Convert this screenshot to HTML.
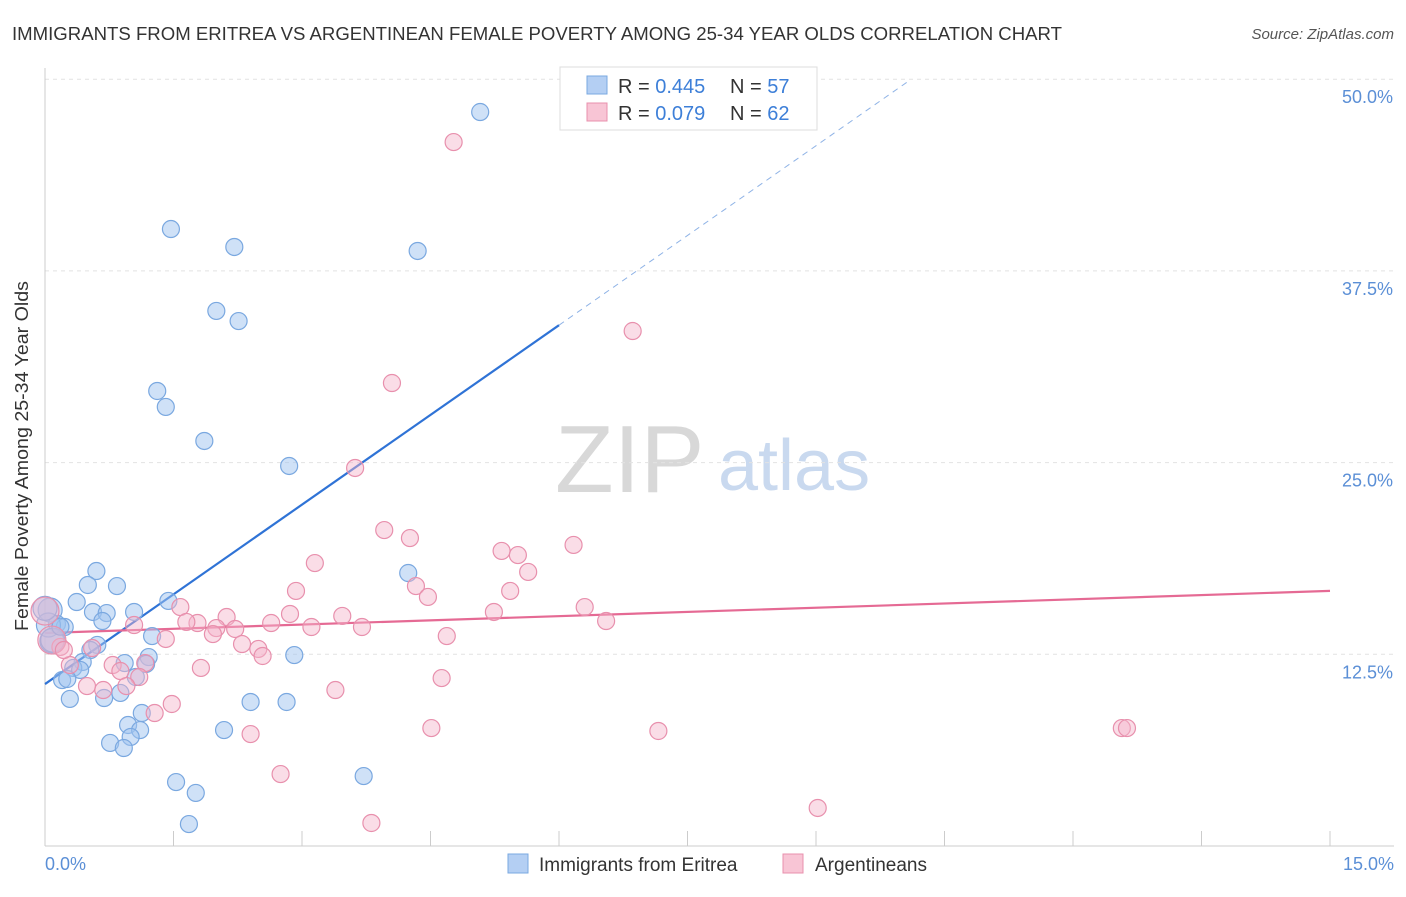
<!DOCTYPE html>
<html><head><meta charset="utf-8"><style>
body{margin:0;background:#fff;font-family:"Liberation Sans",sans-serif;}
svg text{font-family:"Liberation Sans",sans-serif;}
</style></head><body>
<svg id="chart" width="1406" height="892" xmlns="http://www.w3.org/2000/svg">
<text x="12" y="40" font-size="18" fill="#333" textLength="1050" lengthAdjust="spacingAndGlyphs">IMMIGRANTS FROM ERITREA VS ARGENTINEAN FEMALE POVERTY AMONG 25-34 YEAR OLDS CORRELATION CHART</text>
<text x="1394" y="39" font-size="15" fill="#555" text-anchor="end" font-style="italic">Source: ZipAtlas.com</text>
<g>
<text x="555" y="492" font-size="96" fill="#d8d8d8" font-family="Liberation Serif">ZIP</text>
<text x="718" y="490" font-size="72" fill="#c9d9ef">atlas</text>
</g>
<g id="grid"></g><g id="axes"></g><g id="trends"></g><g id="pts"></g>
<text x="28" y="456" font-size="18.5" fill="#333" text-anchor="middle" textLength="350" lengthAdjust="spacingAndGlyphs" transform="rotate(-90 28 456)">Female Poverty Among 25-34 Year Olds</text>
<text x="45" y="870" font-size="18" fill="#5b8fd6">0.0%</text>
<text x="1394" y="870" font-size="18" fill="#5b8fd6" text-anchor="end">15.0%</text>
<g>
<rect x="560" y="67" width="257" height="63" fill="#fff" stroke="#ddd"/>
<rect x="587" y="76" width="20" height="18" fill="#b4cff3" stroke="#7aa8e0"/>
<rect x="587" y="103" width="20" height="18" fill="#f8c5d5" stroke="#e890ad"/>
<text x="618" y="93" font-size="20" fill="#333">R = <tspan fill="#3d7fd8">0.445</tspan></text>
<text x="730" y="93" font-size="20" fill="#333">N = <tspan fill="#3d7fd8">57</tspan></text>
<text x="618" y="120" font-size="20" fill="#333">R = <tspan fill="#3d7fd8">0.079</tspan></text>
<text x="730" y="120" font-size="20" fill="#333">N = <tspan fill="#3d7fd8">62</tspan></text>
</g>
<g>
<rect x="508" y="854" width="20" height="19" fill="#b4cff3" stroke="#7aa8e0"/>
<text x="539" y="871" font-size="19" fill="#333">Immigrants from Eritrea</text>
<rect x="783" y="854" width="20" height="19" fill="#f8c5d5" stroke="#e890ad"/>
<text x="815" y="871" font-size="19" fill="#333">Argentineans</text>
</g>
</svg>
<script>
const yTicks=[12.5,25.0,37.5,50.0];
const xTickValues=[0,1.5,3,4.5,6,7.5,9,10.5,12,13.5,15];
const blueX=[5.08,1.47,2.21,4.35,2.00,2.26,1.31,1.41,1.86,2.85,0.60,0.50,0.84,4.24,0.37,0.56,0.72,1.04,1.44,0.06,0.14,0.23,0.67,1.25,0.08,0.61,0.53,2.91,1.21,0.93,0.44,0.33,0.41,1.18,1.06,0.20,0.26,0.29,0.69,0.88,2.40,2.82,1.13,0.97,1.11,2.09,1.00,0.76,0.92,1.53,1.76,3.72,1.68,0.04,0.09,0.0,0.18];
const blueY=[47.86,40.23,39.06,38.80,34.89,34.23,29.67,28.63,26.41,24.78,17.93,17.02,16.95,17.80,15.91,15.26,15.19,15.26,15.98,15.39,14.48,14.28,14.67,13.69,13.37,13.11,12.78,12.45,12.32,11.93,12.00,11.61,11.48,11.87,11.02,10.82,10.89,9.59,9.65,9.98,9.39,9.39,8.67,7.89,7.56,7.56,7.11,6.72,6.39,4.17,3.46,4.56,1.43,14.41,13.43,15.5,14.3];
const pinkX=[4.77,6.86,4.05,3.62,3.96,4.26,5.33,5.52,6.17,3.15,5.64,2.93,4.33,4.47,5.43,6.30,5.24,1.58,2.86,3.47,2.12,2.64,1.78,1.65,6.55,3.11,3.70,2.00,1.04,2.22,1.96,4.69,1.41,2.30,2.49,2.54,0.18,0.55,0.0,0.08,0.29,0.79,1.17,1.82,0.88,1.10,4.63,0.49,0.68,0.95,3.39,1.48,1.28,4.51,7.16,12.57,12.63,2.40,2.75,9.02,3.81,0.22];
const pinkY=[45.90,33.58,30.19,24.65,20.60,20.08,19.24,18.97,19.63,18.45,17.87,16.63,16.95,16.24,16.63,15.58,15.26,15.58,15.13,15.00,14.93,14.54,14.54,14.61,14.67,14.28,14.28,14.21,14.41,14.15,13.82,13.69,13.50,13.17,12.85,12.39,12.98,12.91,15.32,13.43,11.80,11.80,11.93,11.61,11.41,11.02,10.95,10.43,10.17,10.43,10.17,9.26,8.67,7.69,7.50,7.69,7.69,7.30,4.69,2.48,1.50,12.78];
const blueTrend=[10.56,3.90]; // intercept, slope
const blueSolidEnd=6.0, blueDashEnd=10.1;
const pinkTrend=[13.89,0.183];
const X=v=>45+v/15*1285;
const Y=v=>846-v/12.5*191.7;
const NS='http://www.w3.org/2000/svg';
function mk(tag,attrs,parent){const e=document.createElementNS(NS,tag);for(const k in attrs)e.setAttribute(k,attrs[k]);document.getElementById(parent).appendChild(e);return e;}
yTicks.forEach(t=>{
 const l=mk('line',{x1:45,x2:1394,y1:Y(t),y2:Y(t),stroke:'#e2e2e2','stroke-dasharray':'4,4'},'grid');
 
 
 const tx=mk('text',{x:1393,y:Y(t)+24,'font-size':18,fill:'#5b8fd6','text-anchor':'end'},'grid');
 tx.textContent=t.toFixed(1)+'%';
 
 
});
let ax=mk('line',{x1:45,x2:45,y1:68,y2:846,stroke:'#ccc'},'axes');


ax=mk('line',{x1:45,x2:1394,y1:846,y2:846,stroke:'#ccc'},'axes');


xTickValues.forEach(t=>{
 const l=mk('line',{x1:X(t),x2:X(t),y1:831,y2:846,stroke:'#ccc'},'axes');
 
 
});
let tl=mk('line',{x1:X(0),y1:Y(blueTrend[0]),x2:X(blueSolidEnd),y2:Y(blueTrend[0]+blueTrend[1]*blueSolidEnd),stroke:'#2f73d6','stroke-width':2.2},'trends');


tl=mk('line',{x1:X(blueSolidEnd),y1:Y(blueTrend[0]+blueTrend[1]*blueSolidEnd),x2:X(blueDashEnd),y2:Y(blueTrend[0]+blueTrend[1]*blueDashEnd),stroke:'#8fb3e6','stroke-width':1,'stroke-dasharray':'6,5'},'trends');


tl=mk('line',{x1:X(0),y1:Y(pinkTrend[0]),x2:X(15),y2:Y(pinkTrend[0]+pinkTrend[1]*15),stroke:'#e56a94','stroke-width':2.2},'trends');


blueX.forEach((x,i)=>{
 const c=mk('circle',{cx:X(x),cy:Y(blueY[i]),r:(x<0.1?12:8.5),fill:'rgba(160,195,240,0.5)',stroke:'#7aa8e0','stroke-width':1.2},'pts');
 
 
});
pinkX.forEach((x,i)=>{
 const c=mk('circle',{cx:X(x),cy:Y(pinkY[i]),r:(x<0.1?14:8.5),fill:'rgba(245,180,202,0.45)',stroke:'#e890ad','stroke-width':1.2},'pts');
 
 
});
</script>
</body></html>
